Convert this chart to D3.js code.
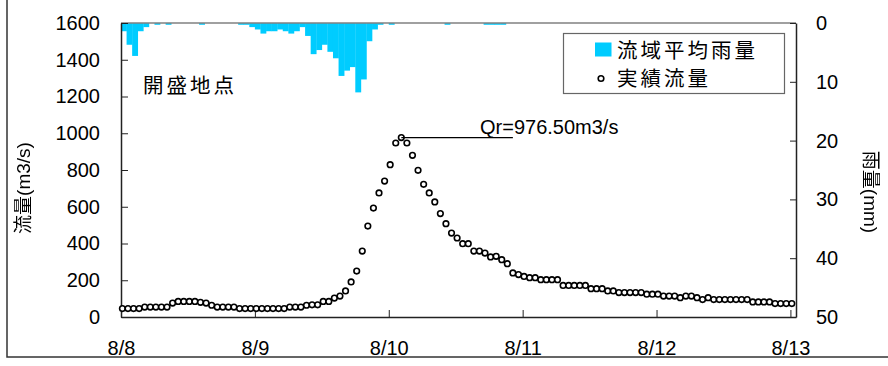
<!DOCTYPE html>
<html>
<head>
<meta charset="utf-8">
<script src="https://cdn.jsdelivr.net/npm/d3@7"></script>
<style>
  html, body { margin: 0; padding: 0; background: #fff; }
  svg { display: block; }
  text { font-family: "Liberation Sans", "Noto Sans CJK JP", sans-serif; fill: #000; }
  .jp { font-family: "Noto Sans CJK JP", sans-serif; }
  .lat { font-family: "Liberation Sans", sans-serif; }
</style>
</head>
<body>
<svg id="chart" width="888" height="366"></svg>
<script>
// Hourly basin-average rainfall (mm), 8/8 00:00 onward
const rainfall = [
  1.4, 3.7, 5.6, 1.4, 0.7, 0, 0.3, 0, 0.3, 0, 0, 0, 0, 0, 0.3, 0, 0, 0, 0, 0,
  0, 0.3, 0.3, 0.7, 1.1, 1.8, 1.4, 1.4, 1.1, 1.4, 1.8, 1.4, 0.7, 2.2, 5.3, 4.6, 3.7, 4.9, 6.0, 9.0,
  8.1, 7.5, 11.8, 9.6, 3.1, 1.1, 0.3, 0, 0.3, 0, 0, 0, 0, 0, 0, 0, 0, 0, 0.3, 0,
  0, 0, 0, 0, 0, 0.3, 0.3, 0.3, 0.3, 0, 0, 0, 0, 0, 0, 0, 0, 0, 0, 0,
  0, 0, 0, 0, 0, 0, 0, 0, 0, 0, 0, 0, 0, 0, 0, 0, 0, 0, 0, 0,
  0, 0, 0, 0, 0, 0, 0, 0, 0, 0, 0, 0, 0, 0, 0, 0, 0, 0, 0, 0,
  0
];

// Hourly observed discharge (m3/s)
const discharge = [
  46, 46, 46, 46, 54, 54, 54, 54, 54, 76, 85, 85, 85, 85, 80, 76, 64, 54, 54, 54,
  54, 46, 46, 46, 46, 46, 46, 46, 46, 46, 54, 54, 54, 64, 66, 66, 85, 85, 103, 114,
  142, 191, 250, 359, 495, 593, 675, 740, 829, 947, 976.5, 947, 880, 798, 722, 675, 626, 563, 508, 457,
  430, 399, 399, 359, 359, 348, 327, 330, 312, 290, 240, 231, 221, 214, 214, 203, 203, 203, 203, 172,
  172, 172, 172, 172, 154, 154, 154, 142, 142, 133, 133, 133, 133, 133, 124, 124, 124, 114, 114, 114,
  105, 114, 114, 105, 95, 105, 95, 95, 95, 95, 95, 95, 95, 82, 82, 82, 82, 73, 73, 73,
  73
];

// Date labels, one per day (every 24 hours)
const dayLabels = ["8/8", "8/9", "8/10", "8/11", "8/12", "8/13"];
const dayTicks = [0, 24, 48, 72, 96, 120];

const flowTicks = [0, 200, 400, 600, 800, 1000, 1200, 1400, 1600];
const rainTicks = [0, 10, 20, 30, 40, 50];

const stationName = "開盛地点";
const legendLabels = ["流域平均雨量", "実績流量"];

const svg = d3.select("#chart");
const plot = { left: 121, top: 23, right: 796, bottom: 317 };
const rainColor = "#00CCFF";

// Greyscale filter so rotated glyphs render without colour fringes
svg.append("defs").append("filter")
  .attr("id", "mono")
  .append("feColorMatrix").attr("type", "saturate").attr("values", 0);

// Outer frame (left and bottom edges visible)
svg.append("rect")
  .attr("x", 7).attr("y", -10)
  .attr("width", 920).attr("height", 367)
  .attr("fill", "none").attr("stroke", "#333").attr("stroke-width", 1.5);

const x = d3.scaleLinear().domain([0, rainfall.length]).range([plot.left, plot.right]);
const yFlow = d3.scaleLinear().domain([0, 1600]).range([plot.bottom, plot.top]);
const yRain = d3.scaleLinear().domain([0, 50]).range([plot.top, plot.bottom]);
const pointOffset = 0.25;

// Rainfall bars hanging from the top edge
svg.append("g").selectAll("rect")
  .data(rainfall)
  .join("rect")
  .attr("x", (d, i) => x(i))
  .attr("y", yRain(0))
  .attr("width", x(1) - x(0) + 0.3)
  .attr("height", d => yRain(d) - yRain(0))
  .attr("fill", rainColor);

// Top edge of the plot area
svg.append("line")
  .attr("x1", plot.left).attr("x2", plot.right)
  .attr("y1", plot.top).attr("y2", plot.top)
  .attr("stroke", "#808080").attr("stroke-width", 1.5);

// Axes
const gLeft = svg.append("g").attr("transform", `translate(${plot.left},0)`)
  .call(d3.axisLeft(yFlow).tickValues(flowTicks).tickFormat(d3.format("d"))
    .tickSize(-7).tickPadding(21).tickSizeOuter(0));
const gRight = svg.append("g").attr("transform", `translate(${plot.right},0)`)
  .call(d3.axisRight(yRain).tickValues(rainTicks).tickFormat(d3.format("d"))
    .tickSize(-6).tickPadding(20).tickSizeOuter(0));
const gBottom = svg.append("g").attr("transform", `translate(0,${plot.bottom})`)
  .call(d3.axisBottom(x).tickValues(dayTicks).tickFormat((d, i) => dayLabels[i])
    .tickSize(-7).tickPadding(24).tickSizeOuter(0));

[gLeft, gRight, gBottom].forEach(g => {
  g.attr("font-family", null).attr("font-size", null);
  g.select(".domain").attr("stroke", "#222").attr("stroke-width", 1.5);
  g.selectAll(".tick line").attr("stroke", "#222").attr("stroke-width", 1);
  g.selectAll(".tick text").attr("class", "lat").attr("font-size", "20px").attr("fill", "#000");
});

// Observed discharge points
svg.append("g").selectAll("circle")
  .data(discharge)
  .join("circle")
  .attr("cx", (d, i) => x(i + pointOffset))
  .attr("cy", d => yFlow(d))
  .attr("r", 2.8)
  .attr("fill", "#fff")
  .attr("stroke", "#000")
  .attr("stroke-width", 1.6);

// Peak annotation
const peak = d3.max(discharge);
const peakIndex = discharge.indexOf(peak);
const leaderEnd = 70;
svg.append("line")
  .attr("x1", x(peakIndex + pointOffset)).attr("x2", x(leaderEnd + pointOffset))
  .attr("y1", yFlow(peak)).attr("y2", yFlow(peak))
  .attr("stroke", "#000").attr("stroke-width", 1.2);
svg.append("text").attr("class", "lat")
  .attr("x", 480).attr("y", 134)
  .attr("font-size", "20px")
  .text(`Qr=${d3.format(".2f")(peak)}m3/s`);

// Station name
svg.append("text").attr("class", "jp")
  .attr("x", 143).attr("y", 93)
  .attr("font-size", "20.5px").attr("letter-spacing", "3px")
  .text(stationName);

// Axis titles: Japanese part and unit part set in separate fonts
function axisTitle(transform, jpPart, unitPart) {
  const t = svg.append("text")
    .attr("transform", transform)
    .attr("text-anchor", "middle")
    .attr("font-size", "19px")
    .attr("filter", "url(#mono)");
  t.append("tspan").attr("class", "jp").text(jpPart);
  t.append("tspan").attr("class", "lat").text(unitPart);
}
axisTitle("translate(30,188) rotate(-90)", "流量", "(m3/s)");
axisTitle("translate(864,192) rotate(90)", "雨量", "(mm)");

// Legend
const legend = svg.append("g");
legend.append("rect")
  .attr("x", 563.5).attr("y", 33.5).attr("width", 221).attr("height", 60)
  .attr("fill", "#fff").attr("stroke", "#666").attr("stroke-width", 1.2);
legend.append("rect")
  .attr("x", 595).attr("y", 42.5).attr("width", 16.5).attr("height", 14)
  .attr("fill", rainColor);
legend.append("circle")
  .attr("cx", 601).attr("cy", 78.5).attr("r", 2.8)
  .attr("fill", "#fff").attr("stroke", "#000").attr("stroke-width", 1.6);
legend.selectAll("text.lg")
  .data(legendLabels)
  .join("text")
  .attr("class", "lg jp")
  .attr("x", 617)
  .attr("y", (d, i) => 58 + i * 28)
  .attr("font-size", "20.5px").attr("letter-spacing", "3px")
  .text(d => d);
</script>
</body>
</html>
